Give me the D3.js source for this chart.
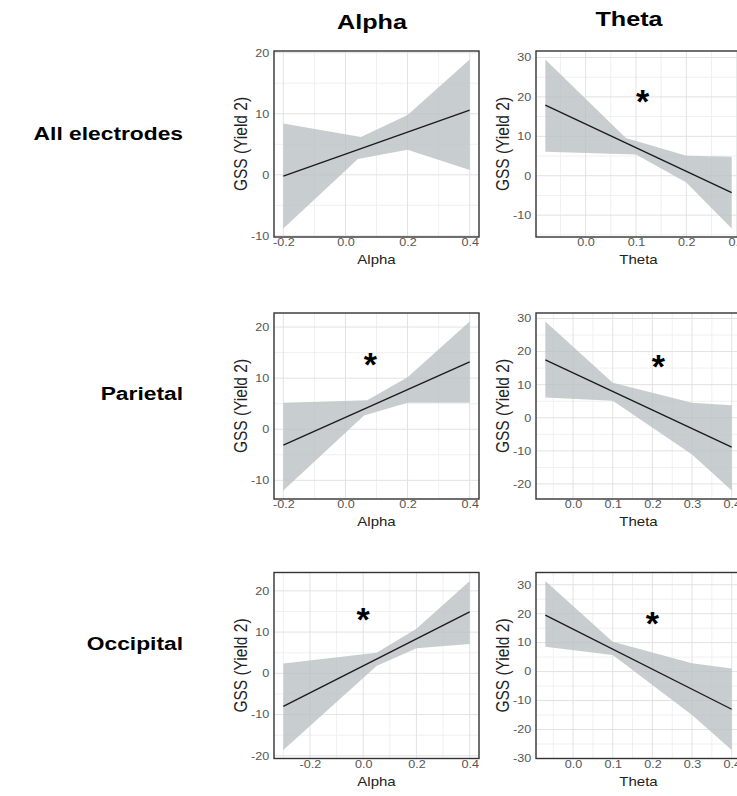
<!DOCTYPE html>
<html>
<head>
<meta charset="utf-8">
<script src="https://cdn.jsdelivr.net/npm/d3@7"></script>
<style>
  body { margin: 0; background: #fff; }
  svg { display: block; }
</style>
</head>
<body>
<script>
// ---- labels ----
const rowLabels = ["All electrodes", "Parietal", "Occipital"];
const colLabels = ["Alpha", "Theta"];
const yTitle = "GSS (Yield 2)";

// ---- x tick labels ----
const alphaTicksX = [-0.2, 0.0, 0.2, 0.4];
const thetaTicksXAll = [0.0, 0.1, 0.2, 0.3];
const thetaTicksX = [0.0, 0.1, 0.2, 0.3, 0.4];

// ---- All electrodes / Alpha ----
const allAlphaFitX = [-0.2, 0.4];
const allAlphaFit  = [-0.2, 10.6];
const allAlphaHiX  = [-0.2, 0.05, 0.2, 0.4];
const allAlphaHi   = [8.4, 6.2, 9.8, 18.9];
const allAlphaLoX  = [-0.2, 0.04, 0.2, 0.4];
const allAlphaLo   = [-8.8, 2.6, 4.1, 0.8];
const allAlphaTicksY = [-10, 0, 10, 20];
const allAlphaStar = null;

// ---- All electrodes / Theta ----
const allThetaFitX = [-0.08, 0.29];
const allThetaFit  = [17.9, -4.3];
const allThetaHiX  = [-0.08, 0.08, 0.2, 0.29];
const allThetaHi   = [29.5, 9.6, 5.1, 4.8];
const allThetaLoX  = [-0.08, 0.1, 0.2, 0.29];
const allThetaLo   = [6.1, 5.4, -1.7, -13.4];
const allThetaTicksY = [-10, 0, 10, 20, 30];
const allThetaStar = [0.113, 20.9];

// ---- Parietal / Alpha ----
const parAlphaFitX = [-0.2, 0.4];
const parAlphaFit  = [-3.1, 13.2];
const parAlphaHiX  = [-0.2, 0.07, 0.2, 0.4];
const parAlphaHi   = [5.2, 5.7, 10.2, 21.1];
const parAlphaLoX  = [-0.2, 0.06, 0.2, 0.4];
const parAlphaLo   = [-12.0, 2.7, 5.2, 5.2];
const parAlphaTicksY = [-10, 0, 10, 20];
const parAlphaStar = [0.08, 14.2];

// ---- Parietal / Theta ----
const parThetaFitX = [-0.07, 0.4];
const parThetaFit  = [17.5, -8.9];
const parThetaHiX  = [-0.07, 0.1, 0.3, 0.4];
const parThetaHi   = [29.1, 10.6, 4.5, 3.8];
const parThetaLoX  = [-0.07, 0.1, 0.3, 0.4];
const parThetaLo   = [6.1, 5.1, -11.1, -22.0];
const parThetaTicksY = [-20, -10, 0, 10, 20, 30];
const parThetaStar = [0.215, 18.0];

// ---- Occipital / Alpha ----
const occAlphaFitX = [-0.3, 0.4];
const occAlphaFit  = [-8.0, 14.9];
const occAlphaHiX  = [-0.3, 0.05, 0.2, 0.4];
const occAlphaHi   = [2.4, 5.0, 10.8, 22.4];
const occAlphaLoX  = [-0.3, 0.05, 0.2, 0.4];
const occAlphaLo   = [-18.6, 1.8, 6.1, 7.1];
const occAlphaTicksY = [-20, -10, 0, 10, 20];
const occAlphaStar = [0.0, 14.9];

// ---- Occipital / Theta ----
const occThetaFitX = [-0.07, 0.4];
const occThetaFit  = [19.5, -13.0];
const occThetaHiX  = [-0.07, 0.1, 0.3, 0.4];
const occThetaHi   = [31.3, 10.3, 2.9, 1.1];
const occThetaLoX  = [-0.07, 0.1, 0.3, 0.4];
const occThetaLo   = [8.6, 5.7, -15.0, -27.1];
const occThetaTicksY = [-30, -20, -10, 0, 10, 20, 30];
const occThetaStar = [0.2, 19.5];

const panels = [
  { row: 0, col: 0, fitX: allAlphaFitX, fit: allAlphaFit, hiX: allAlphaHiX, hi: allAlphaHi, loX: allAlphaLoX, lo: allAlphaLo, ticksX: alphaTicksX, ticksY: allAlphaTicksY, star: allAlphaStar },
  { row: 0, col: 1, fitX: allThetaFitX, fit: allThetaFit, hiX: allThetaHiX, hi: allThetaHi, loX: allThetaLoX, lo: allThetaLo, ticksX: thetaTicksXAll, ticksY: allThetaTicksY, star: allThetaStar },
  { row: 1, col: 0, fitX: parAlphaFitX, fit: parAlphaFit, hiX: parAlphaHiX, hi: parAlphaHi, loX: parAlphaLoX, lo: parAlphaLo, ticksX: alphaTicksX, ticksY: parAlphaTicksY, star: parAlphaStar },
  { row: 1, col: 1, fitX: parThetaFitX, fit: parThetaFit, hiX: parThetaHiX, hi: parThetaHi, loX: parThetaLoX, lo: parThetaLo, ticksX: thetaTicksX, ticksY: parThetaTicksY, star: parThetaStar },
  { row: 2, col: 0, fitX: occAlphaFitX, fit: occAlphaFit, hiX: occAlphaHiX, hi: occAlphaHi, loX: occAlphaLoX, lo: occAlphaLo, ticksX: alphaTicksX, ticksY: occAlphaTicksY, star: occAlphaStar },
  { row: 2, col: 1, fitX: occThetaFitX, fit: occThetaFit, hiX: occThetaHiX, hi: occThetaHi, loX: occThetaLoX, lo: occThetaLo, ticksX: thetaTicksX, ticksY: occThetaTicksY, star: occThetaStar }
];

// ---- layout ----
const W = 737, H = 796;
const SX = 1.2;                       // horizontal text stretch
const FONT = "'Liberation Sans', Arial, Helvetica, sans-serif";
const colLeft = [274, 536];
const rowTop = [51, 313, 572.5];
const panelW = 205, panelH = 186;
const colTitleX = [372, 629], colTitleY = [28.5, 26];
const rowLabelX = 183, rowLabelY = [140, 400, 650];

const fmt = d3.formatLocale({ decimal: ".", thousands: ",", grouping: [3], currency: ["", ""], minus: "-" });
const fmtX = fmt.format(".1f");
const fmtY = fmt.format("d");

const svg = d3.select("body").append("svg")
  .attr("width", W).attr("height", H)
  .attr("font-family", FONT);

function stretchedText(g, x, y, txt) {
  return g.append("text")
    .attr("transform", `translate(${x},${y}) scale(${SX},1)`)
    .text(txt);
}

// column titles
colLabels.forEach((c, i) => {
  stretchedText(svg, colTitleX[i], colTitleY[i], c)
    .attr("text-anchor", "middle")
    .attr("font-size", 21).attr("font-weight", "bold").attr("fill", "#000");
});

// row labels
rowLabels.forEach((r, i) => {
  stretchedText(svg, rowLabelX, rowLabelY[i], r)
    .attr("text-anchor", "end")
    .attr("font-size", 19).attr("font-weight", "bold").attr("fill", "#000");
});

function expand(ext) {
  const pad = (ext[1] - ext[0]) * 0.05;
  return [ext[0] - pad, ext[1] + pad];
}

function midpoints(ticks, dom) {
  const step = ticks[1] - ticks[0];
  const out = [];
  for (let v = ticks[0] - step / 2; v <= dom[1] + 1e-9; v += step) {
    if (v >= dom[0] - 1e-9) out.push(v);
  }
  return out;
}

panels.forEach((p, idx) => {
  const left = colLeft[p.col], top = rowTop[p.row];
  const right = left + panelW, bottom = top + panelH;

  const xDom = expand(d3.extent([...p.fitX, ...p.hiX, ...p.loX]));
  const yDom = expand(d3.extent([...p.fit, ...p.hi, ...p.lo]));
  const x = d3.scaleLinear().domain(xDom).range([left, right]);
  const y = d3.scaleLinear().domain(yDom).range([bottom, top]);

  const g = svg.append("g");
  const clipId = "clip" + idx;
  g.append("clipPath").attr("id", clipId)
    .append("rect").attr("x", left).attr("y", top).attr("width", panelW).attr("height", panelH);
  const plot = g.append("g").attr("clip-path", `url(#${clipId})`);

  // grid: minor then major
  const xMinor = midpoints(p.ticksX, xDom);
  const yMinor = midpoints(p.ticksY, yDom);
  plot.selectAll(".gxm").data(xMinor).join("line")
    .attr("x1", d => x(d)).attr("x2", d => x(d)).attr("y1", top).attr("y2", bottom)
    .attr("stroke", "#f0f0f0").attr("stroke-width", 1);
  plot.selectAll(".gym").data(yMinor).join("line")
    .attr("y1", d => y(d)).attr("y2", d => y(d)).attr("x1", left).attr("x2", right)
    .attr("stroke", "#f0f0f0").attr("stroke-width", 1);
  plot.selectAll(".gx").data(p.ticksX).join("line")
    .attr("x1", d => x(d)).attr("x2", d => x(d)).attr("y1", top).attr("y2", bottom)
    .attr("stroke", "#e2e2e2").attr("stroke-width", 1);
  plot.selectAll(".gy").data(p.ticksY).join("line")
    .attr("y1", d => y(d)).attr("y2", d => y(d)).attr("x1", left).attr("x2", right)
    .attr("stroke", "#e2e2e2").attr("stroke-width", 1);

  // confidence band
  const upper = p.hiX.map((v, i) => [v, p.hi[i]]);
  const lower = p.loX.map((v, i) => [v, p.lo[i]]).reverse();
  const poly = d3.line().x(d => x(d[0])).y(d => y(d[1]));
  plot.append("path")
    .attr("d", poly([...upper, ...lower]) + "Z")
    .attr("fill", "#b8bfc1").attr("fill-opacity", 0.78);

  // fitted line
  plot.append("path")
    .attr("d", poly(p.fitX.map((v, i) => [v, p.fit[i]])))
    .attr("fill", "none").attr("stroke", "#1a1a1a").attr("stroke-width", 1.3);

  // significance marker
  if (p.star) {
    const fs = 34;
    plot.append("text")
      .attr("x", x(p.star[0])).attr("y", y(p.star[1]) + 0.57 * fs)
      .attr("text-anchor", "middle")
      .attr("font-size", fs).attr("font-weight", "bold").attr("fill", "#000")
      .text("*");
  }

  // border
  g.append("rect").attr("x", left).attr("y", top).attr("width", panelW).attr("height", panelH)
    .attr("fill", "none").attr("stroke", "#333").attr("stroke-width", 1.4);

  // axes (labels only)
  const ax = g.append("g").attr("transform", `translate(0,${bottom})`)
    .call(d3.axisBottom(x).tickValues(p.ticksX).tickSize(0).tickPadding(2).tickFormat(fmtX));
  const ay = g.append("g").attr("transform", `translate(${left},0)`)
    .call(d3.axisLeft(y).tickValues(p.ticksY).tickSize(0).tickPadding(4).tickFormat(fmtY));
  [ax, ay].forEach(a => {
    a.select(".domain").remove();
    a.selectAll("text")
      .attr("font-family", FONT).attr("font-size", 10.5).attr("fill", "#555")
      .attr("transform", `scale(${SX},1)`);
  });

  // axis titles
  stretchedText(g, (left + right) / 2, bottom + 27, colLabels[p.col])
    .attr("text-anchor", "middle").attr("font-size", 12.5).attr("fill", "#222");
  g.append("text")
    .attr("transform", `translate(${left - 27},${(top + bottom) / 2}) scale(${SX},1) rotate(-90)`)
    .attr("text-anchor", "middle").attr("font-size", 15.5).attr("fill", "#222")
    .text(yTitle);
});
</script>
</body>
</html>
